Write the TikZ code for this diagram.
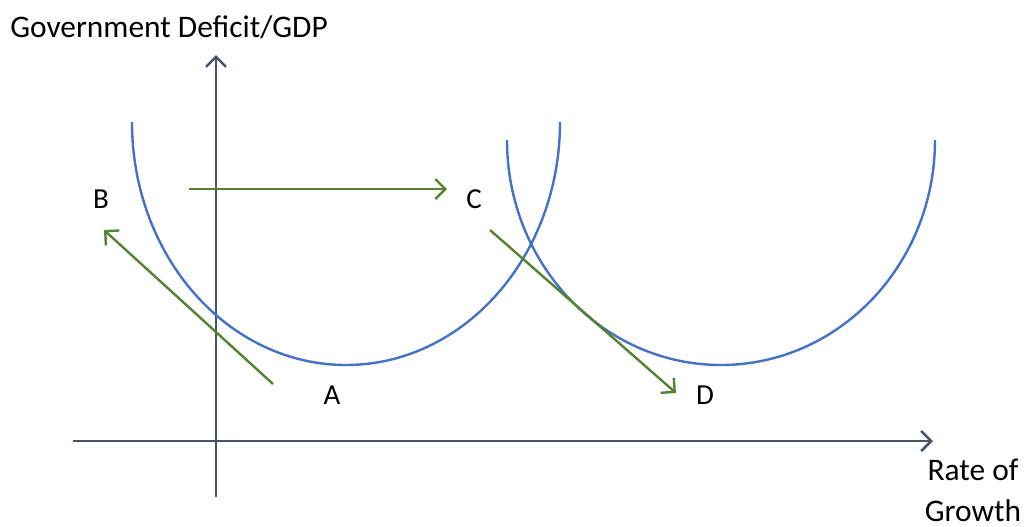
\documentclass[tikz,border=0pt]{standalone}
\usepackage{fontspec}
\setmainfont{Carlito}
\usepackage{xcolor}
\usetikzlibrary{arrows.meta}
\definecolor{axis}{RGB}{68, 84, 106}
\definecolor{crv}{RGB}{68, 114, 196}
\definecolor{mov}{RGB}{84, 130, 53}

\begin{document}
\begin{tikzpicture}[
    x=0.5pt, y=-0.5pt,
    axisarr/.style={-{Straight Barb[length=5pt, width=10pt]}, line width=1.3pt, axis},
    curve/.style={line width=1.2pt, crv},
    move/.style={-{Straight Barb[length=5pt, width=10pt]}, line width=1.2pt, mov},
    lbl/.style={font=\fontsize{14.5}{16}\selectfont, inner sep=0pt}
  ]
  \useasboundingbox (0,0) rectangle (1025,526);
  % axes
  \coordinate (xs) at (73,441);
  \coordinate (xe) at (933,441);
  \coordinate (ys) at (216,497);
  \coordinate (ye) at (216,55);
  \draw[axisarr] (xs) -- (xe);
  \draw[axisarr] (ys) -- (ye);
  \node[lbl, font=\fontsize{15.7}{18}\selectfont] (ylab) at (169,27) {Government Deficit/GDP};
  \node[lbl, align=center, font=\fontsize{15.7}{20.5}\selectfont] (xlab) at (973,490) {Rate of\\Growth};
  % curves
  \draw[curve] (132,122) arc[start angle=180, end angle=0, x radius=214, y radius=243];
  \draw[curve] (507,140) arc[start angle=180, end angle=0, x radius=214, y radius=225];
  % points
  \node[lbl] (A) at (332,395) {A};
  \node[lbl] (B) at (101,199) {B};
  \node[lbl] (C) at (474,199) {C};
  \node[lbl] (D) at (705,395) {D};
  \coordinate (a0) at (273,384);
  \coordinate (b0) at (104,230);
  \coordinate (h0) at (189,189);
  \coordinate (h1) at (447,189);
  \coordinate (c0) at (490,230);
  \coordinate (d0) at (676,393);
  \draw[move] (a0) -- (b0);
  \draw[move] (h0) -- (h1);
  \draw[move] (c0) -- (d0);
\end{tikzpicture}
\end{document}
